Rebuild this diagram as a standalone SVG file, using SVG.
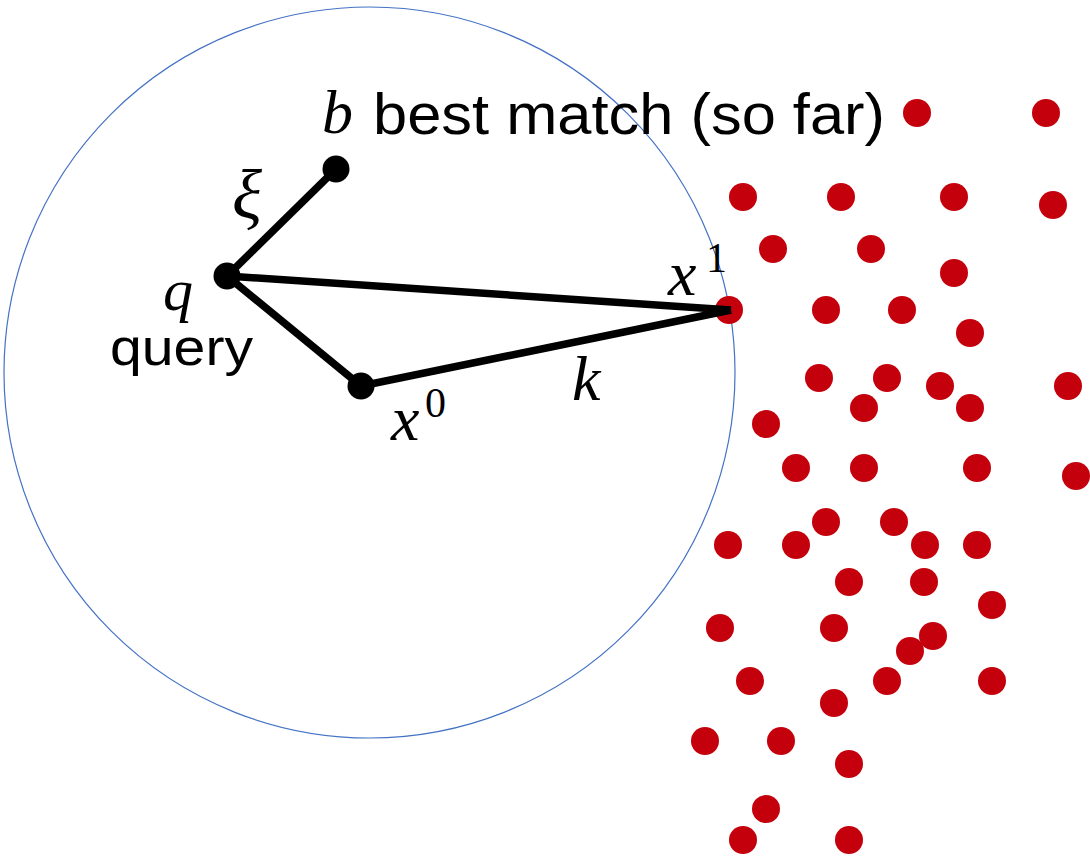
<svg xmlns="http://www.w3.org/2000/svg" width="1090" height="859" viewBox="0 0 1090 859">
<style>
.dot{fill:#C4000C}
.node{fill:#000}
.edge{stroke:#000;stroke-width:7.5;stroke-linecap:butt}
.m{font-family:"Liberation Serif","DejaVu Serif",serif;font-style:italic;fill:#000}
.n{font-family:"Liberation Serif","DejaVu Serif",serif;fill:#000}
.s{font-family:"Liberation Sans","DejaVu Sans",sans-serif;fill:#000}
</style>
<rect width="1090" height="859" fill="#fff"/>
<circle id="range" cx="369.5" cy="372.5" r="365.5" fill="none" stroke="#4472C4" stroke-width="1.2"/>
<g id="points">
<circle class="dot" cx="917" cy="113" r="14"/>
<circle class="dot" cx="1046" cy="113" r="14"/>
<circle class="dot" cx="743" cy="197" r="14"/>
<circle class="dot" cx="841" cy="197" r="14"/>
<circle class="dot" cx="954" cy="197" r="14"/>
<circle class="dot" cx="1053" cy="205" r="14"/>
<circle class="dot" cx="773" cy="249" r="14"/>
<circle class="dot" cx="871" cy="249" r="14"/>
<circle class="dot" cx="954" cy="273" r="14"/>
<circle class="dot" cx="729" cy="310" r="14"/>
<circle class="dot" cx="826" cy="310" r="14"/>
<circle class="dot" cx="902" cy="310" r="14"/>
<circle class="dot" cx="970" cy="333" r="14"/>
<circle class="dot" cx="819" cy="378" r="14"/>
<circle class="dot" cx="887" cy="378" r="14"/>
<circle class="dot" cx="940" cy="386" r="14"/>
<circle class="dot" cx="1068" cy="386" r="14"/>
<circle class="dot" cx="864" cy="408" r="14"/>
<circle class="dot" cx="970" cy="408" r="14"/>
<circle class="dot" cx="766" cy="424" r="14"/>
<circle class="dot" cx="796" cy="468" r="14"/>
<circle class="dot" cx="864" cy="468" r="14"/>
<circle class="dot" cx="977" cy="468" r="14"/>
<circle class="dot" cx="1076" cy="476" r="14"/>
<circle class="dot" cx="826" cy="522" r="14"/>
<circle class="dot" cx="894" cy="522" r="14"/>
<circle class="dot" cx="728" cy="545" r="14"/>
<circle class="dot" cx="796" cy="545" r="14"/>
<circle class="dot" cx="925" cy="545" r="14"/>
<circle class="dot" cx="977" cy="545" r="14"/>
<circle class="dot" cx="849" cy="582" r="14"/>
<circle class="dot" cx="924" cy="582" r="14"/>
<circle class="dot" cx="992" cy="605" r="14"/>
<circle class="dot" cx="720" cy="628" r="14"/>
<circle class="dot" cx="834" cy="628" r="14"/>
<circle class="dot" cx="933" cy="636" r="14"/>
<circle class="dot" cx="910" cy="651" r="14"/>
<circle class="dot" cx="750" cy="681" r="14"/>
<circle class="dot" cx="887" cy="681" r="14"/>
<circle class="dot" cx="992" cy="681" r="14"/>
<circle class="dot" cx="834" cy="703" r="14"/>
<circle class="dot" cx="705" cy="741" r="14"/>
<circle class="dot" cx="781" cy="741" r="14"/>
<circle class="dot" cx="849" cy="764" r="14"/>
<circle class="dot" cx="766" cy="809" r="14"/>
<circle class="dot" cx="743" cy="840" r="14"/>
<circle class="dot" cx="849" cy="840" r="14"/>
</g>
<g id="connectors">
<line class="edge" x1="227" y1="276" x2="336" y2="169"/>
<line class="edge" x1="227" y1="276" x2="731" y2="310"/>
<line class="edge" x1="227" y1="276" x2="361" y2="386"/>
<line class="edge" x1="361" y1="386" x2="731" y2="310"/>
</g>
<g id="node-b">
<circle class="node" cx="336" cy="169" r="13.5"/>
<text class="m" x="322" y="133" font-size="62">b</text>
<text class="s" x="373" y="134" font-size="58" textLength="512" lengthAdjust="spacingAndGlyphs">best match (so far)</text>
</g>
<g id="node-q">
<circle class="node" cx="227" cy="276" r="13.5"/>
<text class="m" x="163" y="310" font-size="60">q</text>
<text class="s" x="110" y="365" font-size="52" textLength="143" lengthAdjust="spacingAndGlyphs">query</text>
</g>
<g id="node-x0">
<circle class="node" cx="361" cy="386" r="13.5"/>
<text class="m" x="391" y="440" font-size="64">x</text>
<text class="n" x="425" y="417" font-size="42">0</text>
</g>
<g id="node-x1">
<text class="m" x="668" y="295" font-size="64">x</text>
<text class="n" x="706" y="272" font-size="42">1</text>
</g>
<g id="labels">
<text class="m" x="232" y="218" font-size="70">ξ</text>
<text class="m" x="572" y="400" font-size="64">k</text>
</g>
</svg>
